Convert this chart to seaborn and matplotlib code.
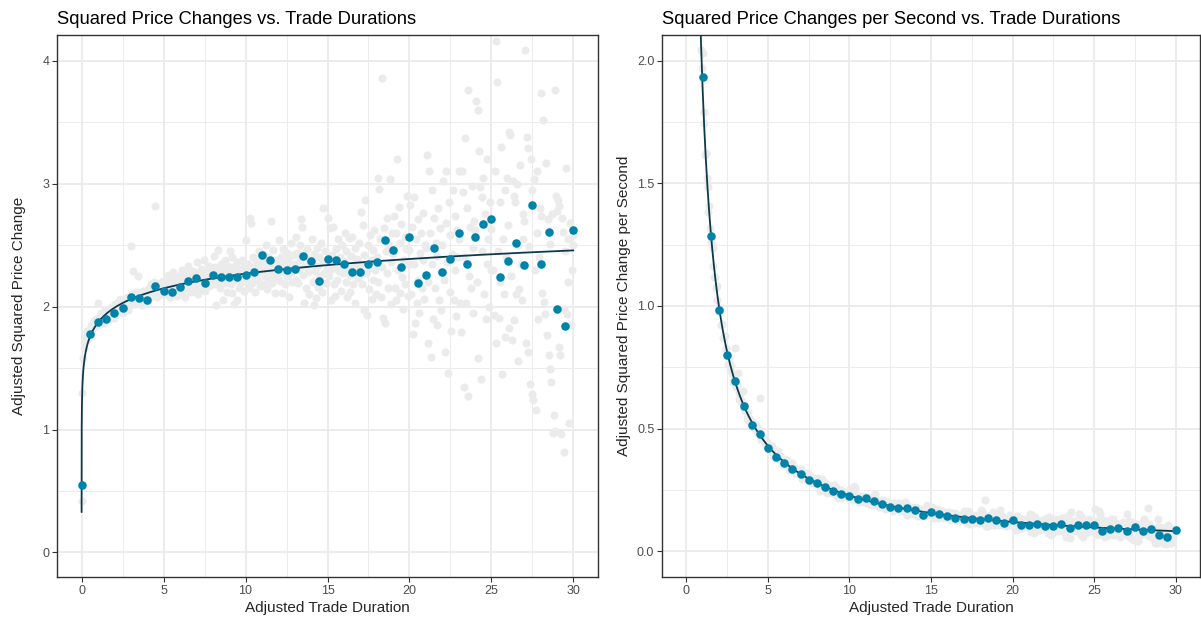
import numpy as np
import pandas as pd
import matplotlib
matplotlib.use("Agg")
import matplotlib.pyplot as plt
import seaborn as sns

sns.set_theme(style="white")
plt.rcParams['font.family'] = ['Liberation Sans', 'DejaVu Sans']

# binned means (blue), every 0.5 of duration
blue_x = np.arange(0, 30.01, 0.5)
blue_y = [0.55, 1.78, 1.875, 1.90, 1.95, 1.99, 2.08, 2.07, 2.05, 2.17,
          2.13, 2.12, 2.16, 2.21, 2.23, 2.19, 2.26, 2.24, 2.24, 2.24,
          2.26, 2.28, 2.42, 2.38, 2.31, 2.30, 2.31, 2.41, 2.37, 2.21,
          2.39, 2.38, 2.35, 2.28, 2.28, 2.35, 2.36, 2.54, 2.46, 2.32,
          2.57, 2.19, 2.26, 2.48, 2.28, 2.39, 2.60, 2.35, 2.57, 2.67,
          2.71, 2.24, 2.37, 2.52, 2.34, 2.83, 2.35, 2.61, 1.98, 1.84,
          2.62]

# per-second binned means (blue, right panel), from 1 to 30
rate_x = np.arange(1, 30.01, 0.5)
rate_y = [1.935, 1.285, 0.984, 0.80, 0.695, 0.594, 0.513, 0.48, 0.423, 0.385,
          0.358, 0.337, 0.317, 0.29, 0.279, 0.26, 0.247, 0.234, 0.224, 0.214,
          0.218, 0.205, 0.192, 0.18, 0.175, 0.178, 0.17, 0.149, 0.159, 0.15,
          0.144, 0.134, 0.131, 0.133, 0.127, 0.135, 0.127, 0.117, 0.129, 0.106,
          0.106, 0.112, 0.102, 0.104, 0.11, 0.096, 0.106, 0.106, 0.106, 0.084,
          0.089, 0.093, 0.084, 0.099, 0.081, 0.091, 0.065, 0.06, 0.085]

# fine bins (grey), every 0.05 of duration, one row per unit
grey_rows = [
    [0.42, 1.30, 1.58, 1.66, 1.72, 1.75, 1.76, 1.80, 1.74, 1.79, 1.82, 1.84, 1.78, 1.86, 1.83, 1.88, 1.85, 1.90, 1.84, 1.87],
    [2.03, 1.88, 1.92, 1.86, 1.95, 1.90, 1.93, 1.87, 1.97, 1.91, 1.89, 1.94, 1.98, 1.92, 1.90, 1.96, 1.93, 2.00, 1.95, 1.91],
    [1.97, 2.02, 1.94, 1.99, 2.04, 1.96, 2.01, 2.06, 1.98, 2.03, 2.00, 1.95, 2.05, 2.02, 1.99, 2.08, 2.03, 1.97, 2.06, 2.01],
    [2.49, 2.04, 2.10, 2.29, 2.07, 2.02, 2.12, 2.05, 2.08, 2.25, 2.03, 2.11, 2.06, 2.09, 2.01, 2.13, 2.07, 2.04, 2.10, 2.08],
    [2.10, 2.14, 2.07, 2.16, 2.11, 2.18, 2.09, 2.13, 2.20, 2.15, 2.82, 2.12, 2.08, 2.17, 2.14, 2.19, 2.10, 2.16, 2.13, 2.21],
    [2.12, 2.18, 2.10, 2.22, 2.15, 2.26, 2.13, 2.19, 2.08, 2.24, 2.16, 2.11, 2.28, 2.17, 2.20, 2.14, 2.23, 2.09, 2.18, 2.25],
    [2.19, 2.24, 2.13, 2.30, 2.17, 2.22, 2.08, 2.27, 2.20, 2.15, 2.33, 2.21, 2.26, 2.12, 2.24, 2.18, 2.29, 2.16, 2.23, 2.19],
    [2.25, 2.36, 2.10, 2.20, 2.28, 2.15, 2.31, 2.22, 2.18, 2.38, 2.24, 2.13, 2.29, 2.21, 2.26, 2.17, 2.33, 2.23, 2.19, 2.27],
    [2.27, 2.41, 2.18, 2.32, 2.01, 2.24, 2.46, 2.20, 2.29, 2.15, 2.35, 2.22, 2.05, 2.30, 2.26, 2.38, 2.19, 2.28, 2.12, 2.33],
    [2.30, 2.45, 2.18, 2.40, 2.11, 2.27, 2.02, 2.33, 2.22, 2.05, 2.36, 2.25, 2.15, 2.31, 2.28, 2.20, 2.38, 2.24, 2.13, 2.34],
    [2.28, 2.54, 2.20, 2.35, 2.15, 2.72, 2.30, 2.68, 2.19, 2.40, 2.25, 2.33, 2.12, 2.38, 2.27, 2.22, 2.45, 2.31, 2.17, 2.36],
    [2.30, 2.43, 2.18, 2.36, 2.25, 2.50, 2.14, 2.32, 2.40, 2.22, 2.28, 2.70, 2.19, 2.35, 2.46, 2.26, 2.11, 2.38, 2.31, 2.24],
    [2.33, 2.54, 2.21, 2.40, 2.11, 2.29, 2.47, 2.36, 2.18, 2.31, 2.44, 2.25, 2.38, 2.08, 2.34, 2.52, 2.27, 2.20, 2.42, 2.30],
    [2.35, 2.57, 2.22, 2.44, 2.19, 2.30, 2.50, 2.38, 2.71, 2.65, 2.26, 2.03, 2.41, 2.33, 2.15, 2.47, 2.28, 2.36, 2.10, 2.39],
    [2.36, 2.55, 2.20, 2.01, 2.43, 2.29, 2.07, 2.48, 2.33, 2.16, 2.40, 2.25, 2.52, 2.12, 2.37, 2.80, 2.27, 2.45, 2.19, 2.31],
    [2.38, 2.72, 2.25, 2.64, 2.05, 2.42, 2.31, 2.65, 2.18, 2.09, 2.47, 2.34, 2.22, 2.55, 2.29, 2.40, 2.13, 2.36, 2.50, 2.27],
    [2.37, 2.60, 2.20, 2.45, 2.08, 2.31, 2.56, 2.26, 2.12, 2.41, 2.57, 2.18, 2.34, 2.48, 2.03, 2.29, 2.39, 2.23, 2.52, 2.33],
    [2.35, 2.77, 2.18, 2.66, 1.97, 2.42, 2.87, 2.27, 1.93, 2.50, 2.31, 2.14, 2.58, 2.38, 2.06, 2.46, 2.22, 2.62, 2.30, 2.10],
    [2.40, 3.05, 2.20, 2.96, 2.55, 2.08, 3.86, 2.32, 1.91, 2.64, 1.87, 2.45, 2.27, 2.72, 2.15, 2.50, 3.04, 2.02, 2.36, 2.60],
    [2.43, 2.74, 2.15, 2.60, 2.05, 3.20, 2.30, 2.81, 2.11, 2.52, 2.67, 2.24, 1.98, 2.38, 2.57, 2.18, 2.47, 2.90, 2.09, 2.35],
    [2.46, 2.83, 2.10, 2.65, 1.78, 2.35, 2.89, 1.87, 2.55, 2.03, 2.71, 2.22, 1.95, 2.44, 2.60, 2.15, 2.38, 2.76, 2.06, 2.50],
    [2.48, 3.23, 2.20, 1.70, 3.10, 2.60, 1.59, 2.95, 2.35, 1.90, 2.72, 2.15, 2.52, 1.85, 2.41, 2.80, 2.05, 2.64, 2.28, 1.97],
    [2.50, 3.02, 2.22, 1.63, 2.68, 3.10, 2.36, 1.46, 2.85, 2.12, 2.58, 1.80, 2.43, 2.95, 2.05, 2.74, 2.30, 1.92, 2.62, 2.40],
    [2.55, 3.10, 2.03, 1.79, 3.10, 2.93, 1.35, 2.40, 3.37, 2.03, 2.80, 1.27, 3.76, 2.25, 2.65, 2.15, 2.98, 1.95, 2.48, 2.70],
    [2.62, 3.67, 2.20, 3.60, 1.58, 3.27, 2.97, 1.41, 2.89, 2.45, 3.05, 2.10, 2.75, 1.90, 3.20, 2.35, 2.55, 2.00, 2.85, 2.30],
    [2.63, 4.28, 2.30, 1.93, 3.10, 1.70, 4.16, 3.83, 2.45, 1.91, 2.85, 2.20, 3.30, 1.45, 2.55, 2.10, 2.95, 1.75, 2.40, 3.05],
    [2.66, 3.42, 1.83, 3.40, 2.25, 1.73, 3.02, 2.90, 1.89, 2.85, 2.10, 3.00, 1.56, 2.50, 2.14, 3.15, 2.35, 2.05, 2.75, 2.55],
    [2.70, 4.09, 1.70, 3.38, 1.63, 3.29, 2.49, 1.37, 3.20, 1.29, 2.95, 1.24, 3.04, 2.30, 1.16, 2.60, 3.10, 1.90, 2.40, 2.80],
    [2.74, 3.74, 2.11, 3.52, 2.04, 1.94, 5.00, 3.17, 1.77, 2.71, 1.61, 2.51, 1.49, 1.39, 2.75, 0.97, 1.12, 0.99, 3.76, 2.90],
    [2.78, 2.87, 1.67, 2.82, 1.61, 0.96, 2.72, 2.61, 0.82, 1.98, 2.45, 3.13, 1.94, 2.20, 2.55, 1.05, 2.68, 1.85, 2.30, 2.50],
    [2.58],
]
grey_y = np.concatenate([np.array(r) for r in grey_rows])
grey_x = np.arange(len(grey_y)) * 0.05

df_grey = pd.DataFrame({"dur": grey_x, "sq": grey_y})
df_grey_rate = df_grey[df_grey["dur"] > 0].copy()
df_grey_rate["rate"] = df_grey_rate["sq"] / df_grey_rate["dur"]
df_blue = pd.DataFrame({"dur": blue_x, "sq": blue_y})
df_rate = pd.DataFrame({"dur": rate_x, "rate": rate_y})

# log fit on the binned means
b, a = np.polyfit(np.log(blue_x[1:]), np.array(blue_y[1:]), 1)
fit_x = np.concatenate([np.geomspace(1.3e-4, 0.5, 300), np.linspace(0.5, 30, 300)[1:]])
df_fit = pd.DataFrame({"dur": fit_x, "sq": a + b * np.log(fit_x)})
df_fit["rate"] = df_fit["sq"] / df_fit["dur"]

GREY = "#EBEBEB"
BLUE = "#0083AB"
LINE = "#0C3A4C"

fig = plt.figure(figsize=(12.01, 6.17), dpi=100)
ax1 = fig.add_axes([57 / 1201, 1 - 577 / 617, 541 / 1201, 542 / 617])
ax2 = fig.add_axes([662 / 1201, 1 - 577 / 617, 538 / 1201, 542 / 617])

sns.scatterplot(data=df_grey, x="dur", y="sq", ax=ax1, color=GREY, s=34,
                linewidth=0, zorder=2)
sns.lineplot(data=df_fit, x="dur", y="sq", ax=ax1, color=LINE, lw=1.3,
             sort=False, zorder=3)
sns.scatterplot(data=df_blue, x="dur", y="sq", ax=ax1, color=BLUE, s=38,
                linewidth=0, zorder=4)

sns.scatterplot(data=df_grey_rate, x="dur", y="rate", ax=ax2, color=GREY, s=34,
                linewidth=0, zorder=2)
sns.lineplot(data=df_fit, x="dur", y="rate", ax=ax2, color=LINE, lw=1.3,
             sort=False, zorder=3)
sns.scatterplot(data=df_rate, x="dur", y="rate", ax=ax2, color=BLUE, s=38,
                linewidth=0, zorder=4)

panels = [
    (ax1, "Squared Price Changes vs. Trade Durations", "Adjusted Squared Price Change",
     (-0.2, 4.21), np.arange(0, 5, 1), np.arange(0.5, 4.1, 1), ["0", "1", "2", "3", "4"], 12),
    (ax2, "Squared Price Changes per Second vs. Trade Durations",
     "Adjusted Squared Price Change per Second",
     (-0.105, 2.105), np.arange(0, 2.01, 0.5), np.arange(0.25, 2.1, 0.5),
     ["0.0", "0.5", "1.0", "1.5", "2.0"], 4),
]
for ax, title, ylab, ylim, yt, ymt, ytl, lpad in panels:
    ax.set_xticks(np.arange(0, 31, 5))
    ax.set_xticks(np.arange(2.5, 30, 5), minor=True)
    ax.set_yticks(yt)
    ax.set_yticklabels(ytl)
    ax.set_yticks(ymt, minor=True)
    ax.set_xlim(-1.5, 31.5)
    ax.set_ylim(*ylim)
    ax.grid(which="major", color=GREY, lw=1.3, zorder=0)
    ax.grid(which="minor", color=GREY, lw=0.65, zorder=0)
    ax.set_axisbelow(True)
    ax.tick_params(which="major", length=3.5, width=0.8, color="#333333",
                   labelcolor="#4D4D4D", labelsize=9, pad=2, left=True, bottom=True)
    ax.tick_params(which="minor", length=0)
    for sp in ax.spines.values():
        sp.set_color("#333333")
        sp.set_linewidth(1.0)
    ax.set_title(title, loc="left", fontsize=13.2, pad=8, color="black")
    ax.set_xlabel("Adjusted Trade Duration", fontsize=11, labelpad=3)
    ax.set_ylabel(ylab, fontsize=11, labelpad=lpad)
    leg = ax.get_legend()
    if leg is not None:
        leg.remove()

fig.savefig("out.png", dpi=100)
